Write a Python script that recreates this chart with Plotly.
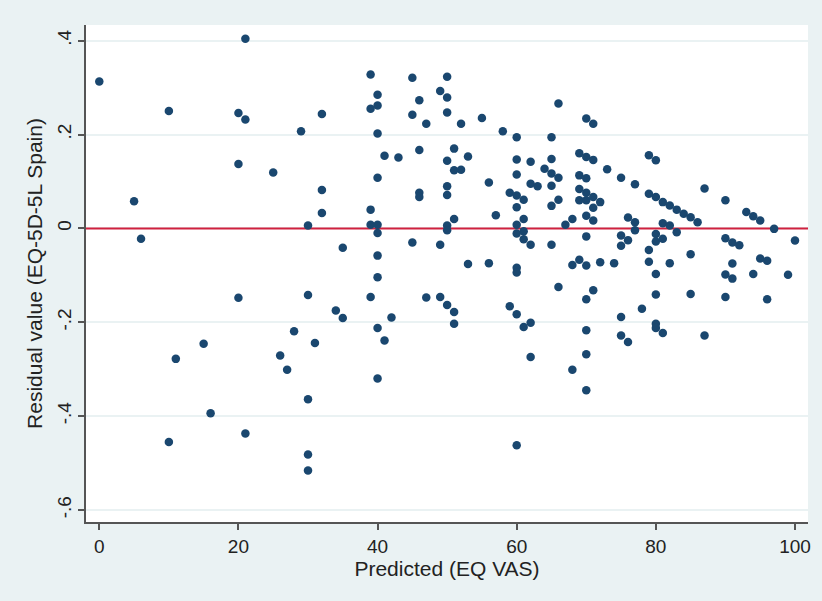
import plotly.graph_objects as go

predicted = [
    0, 5, 6, 10, 10, 11, 15, 16, 20, 20, 20, 21, 21, 21,
    25, 26, 27, 28, 29, 30, 30, 30, 30, 30, 31, 32, 32, 32, 34, 35, 35,
    39, 39, 39, 39, 39, 40, 40, 40, 40, 40, 40, 40, 40, 40, 40,
    41, 41, 42, 43, 45, 45, 45, 46, 46, 46, 46, 47, 47, 49, 49, 49,
    50, 50, 50, 50, 50, 50, 50, 50, 50, 51, 51, 51, 51, 51,
    52, 52, 53, 53, 55, 56, 56, 57, 58, 59, 59,
    60, 60, 60, 60, 60, 60, 60, 60, 60, 60, 60,
    61, 61, 61, 61, 61, 62, 62, 62, 62, 62, 63, 64,
    65, 65, 65, 65, 65, 65, 66, 66, 66, 66, 67, 68, 68, 68,
    69, 69, 69, 69, 69, 70, 70, 70, 70, 70, 70, 70, 70, 70, 70, 70, 70,
    71, 71, 71, 71, 71, 71, 72, 72, 73, 74,
    75, 75, 75, 75, 75, 76, 76, 76, 77, 77, 77, 78,
    79, 79, 79, 79, 80, 80, 80, 80, 80, 80, 80, 80,
    81, 81, 81, 81, 82, 82, 82, 83, 83, 84, 85, 85, 85, 86, 87, 87,
    90, 90, 90, 90, 91, 91, 91, 92, 93, 94, 94, 95, 95, 96, 96, 97, 99, 100,
]

residual = [
    0.313, 0.058, -0.022, 0.250, -0.455, -0.278, -0.246, -0.394, 0.246, 0.137, -0.148, 0.404, 0.232, -0.437,
    0.119, -0.271, -0.301, -0.219, 0.207, 0.006, -0.142, -0.364, -0.482, -0.516, -0.244, 0.244, 0.082, 0.033, -0.175, -0.041, -0.191,
    0.328, 0.255, 0.040, 0.008, -0.146, 0.285, 0.262, 0.202, 0.108, 0.008, -0.010, -0.058, -0.104, -0.212, -0.320,
    0.155, -0.239, -0.190, 0.151, 0.321, 0.242, -0.030, 0.273, 0.167, 0.076, 0.067, 0.223, -0.147, 0.293, -0.035, -0.146,
    0.323, 0.279, 0.247, 0.144, 0.090, 0.071, 0.006, -0.004, -0.163, 0.170, 0.124, 0.020, -0.178, -0.203,
    0.223, 0.125, 0.153, -0.076, 0.235, 0.098, -0.074, 0.028, 0.207, 0.076, -0.166,
    0.194, 0.147, 0.115, 0.070, 0.045, 0.008, -0.011, -0.084, -0.094, -0.183, -0.462,
    0.061, 0.020, -0.006, -0.023, -0.210, 0.142, 0.095, -0.035, -0.201, -0.274, 0.090, 0.127,
    0.194, 0.148, 0.117, 0.091, 0.048, -0.035, 0.266, 0.108, 0.061, -0.125, 0.008, 0.020, -0.078, -0.301,
    0.160, 0.113, 0.084, 0.060, -0.067, 0.234, 0.152, 0.107, 0.076, 0.060, 0.027, -0.017, -0.079, -0.151, -0.217, -0.268, -0.345,
    0.223, 0.146, 0.067, 0.044, 0.017, -0.132, 0.056, -0.072, 0.126, -0.074,
    0.108, -0.015, -0.037, -0.189, -0.228, 0.023, -0.025, -0.242, 0.094, 0.013, -0.004, -0.171,
    0.156, 0.074, -0.046, -0.071, 0.145, 0.067, -0.012, -0.028, -0.097, -0.141, -0.203, -0.212,
    0.056, 0.011, -0.022, -0.223, 0.049, 0.006, -0.074, 0.040, -0.008, 0.031, 0.024, -0.055, -0.140, 0.013, 0.085, -0.228,
    0.060, -0.021, -0.098, -0.146, -0.030, -0.075, -0.107, -0.036, 0.035, 0.026, -0.097, 0.017, -0.064, -0.069, -0.151, -0.001, -0.099, -0.026,
]

x_ticks = [0, 20, 40, 60, 80, 100]
y_ticks = [-0.6, -0.4, -0.2, 0, 0.2, 0.4]
y_tick_labels = ["-.6", "-.4", "-.2", "0", ".2", ".4"]
reference_y = 0

x_range = [-1.91, 101.87]
y_range = [-0.6256, 0.4334]

BG = "#eaf2f3"
FONT = "Liberation Sans, Arial, sans-serif"

fig = go.Figure()
# horizontal reference line at residual = 0, spanning the whole x axis
fig.add_trace(go.Scatter(
    x=x_range, y=[reference_y, reference_y], mode="lines",
    line=dict(color="#d0213f", width=2), showlegend=False, hoverinfo="skip",
    cliponaxis=False,
))
fig.add_trace(go.Scatter(
    x=predicted, y=residual, mode="markers",
    marker=dict(color="#1a476f", size=8.5, line=dict(width=0)),
    showlegend=False, hoverinfo="x+y",
))

fig.update_layout(
    width=822, height=601,
    margin=dict(l=86, r=14, t=25, b=79, autoexpand=False),
    paper_bgcolor=BG, plot_bgcolor="white",
    font=dict(family=FONT, color="#222222"),
    xaxis=dict(
        range=x_range, tickvals=x_ticks, showgrid=False, zeroline=False,
        showline=True, linecolor="#555555", linewidth=1.5,
        ticks="outside", ticklen=6, tickwidth=1.5, tickcolor="#555555",
        tickfont=dict(size=19, family=FONT, color="#222222"),
        title=dict(text="Predicted (EQ VAS)", font=dict(size=21, family=FONT, color="#222222"), standoff=1),
        automargin=False,
    ),
    yaxis=dict(
        range=y_range, tickvals=y_ticks, ticktext=y_tick_labels,
        tickangle=-90, showgrid=True, gridcolor=BG, gridwidth=1.5, zeroline=False,
        showline=True, linecolor="#555555", linewidth=1.5,
        ticks="outside", ticklen=6, tickwidth=1.5, tickcolor="#555555",
        tickfont=dict(size=19, family=FONT, color="#222222"),
        title=dict(text="Residual value (EQ-5D-5L Spain)", font=dict(size=21, family=FONT, color="#222222"), standoff=5),
        automargin=False,
    ),
)

fig.write_html("out.html")
